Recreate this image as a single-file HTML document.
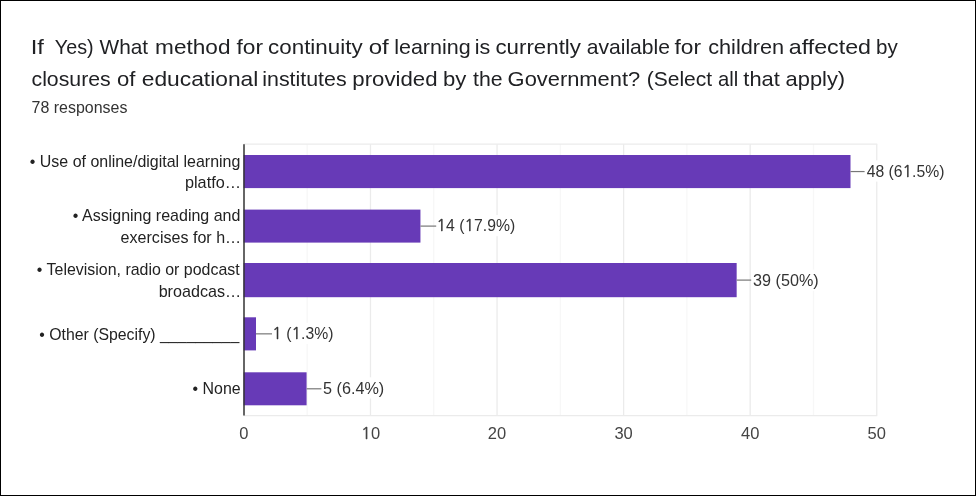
<!DOCTYPE html>
<html><head><meta charset="utf-8">
<style>
html,body{margin:0;padding:0;background:#fff;width:977px;height:497px;overflow:hidden;}
body{filter:blur(0.3px);}
.frame{position:absolute;left:0;top:0;width:976px;height:496px;box-sizing:border-box;border:1px solid #000;}
svg{position:absolute;left:0;top:0;will-change:transform;}
text{font-family:"Liberation Sans",sans-serif;}
</style></head>
<body>
<div class="frame"></div>
<svg width="977" height="497" viewBox="0 0 977 497">
<g stroke="#ebebeb" stroke-width="1.3">
<line x1="307.19" y1="144.2" x2="307.19" y2="415.6" stroke="#f7f7f7"/>
<line x1="370.47" y1="144.2" x2="370.47" y2="415.6" stroke="#ebebeb"/>
<line x1="433.75" y1="144.2" x2="433.75" y2="415.6" stroke="#f7f7f7"/>
<line x1="497.04" y1="144.2" x2="497.04" y2="415.6" stroke="#ebebeb"/>
<line x1="560.33" y1="144.2" x2="560.33" y2="415.6" stroke="#f7f7f7"/>
<line x1="623.61" y1="144.2" x2="623.61" y2="415.6" stroke="#ebebeb"/>
<line x1="686.89" y1="144.2" x2="686.89" y2="415.6" stroke="#f7f7f7"/>
<line x1="750.18" y1="144.2" x2="750.18" y2="415.6" stroke="#ebebeb"/>
<line x1="813.47" y1="144.2" x2="813.47" y2="415.6" stroke="#f7f7f7"/>
<line x1="876.75" y1="144.2" x2="876.75" y2="415.6" stroke="#ebebeb"/>
<line x1="243.6" y1="144.2" x2="877.25" y2="144.2"/>
<line x1="243.6" y1="415.6" x2="877.25" y2="415.6"/>
</g>
<g fill="#673ab7">
<rect x="243.6" y="155.00" width="606.90" height="33.10"/>
<rect x="243.6" y="209.60" width="176.84" height="33.00"/>
<rect x="243.6" y="263.00" width="493.06" height="34.20"/>
<rect x="243.6" y="317.30" width="12.40" height="33.10"/>
<rect x="243.6" y="372.30" width="62.99" height="33.00"/>
</g>
<line x1="244" y1="144.2" x2="244" y2="415.6" stroke="#333" stroke-width="1.5"/>
<g fill="#fff">
<rect x="866.0" y="160.4" width="78.4" height="21.2"/>
<rect x="437.6" y="215.0" width="77.5" height="21.2"/>
<rect x="752.6" y="269.6" width="66.0" height="21.2"/>
<rect x="273.4" y="322.8" width="60.0" height="21.2"/>
<rect x="322.8" y="377.3" width="61.5" height="21.2"/>
</g>
<g stroke="#777" stroke-width="1.2">
<line x1="850.50" y1="171.55" x2="864.60" y2="171.55"/>
<line x1="420.44" y1="226.10" x2="436.20" y2="226.10"/>
<line x1="736.66" y1="280.10" x2="751.20" y2="280.10"/>
<line x1="256.00" y1="333.85" x2="272.00" y2="333.85"/>
<line x1="306.59" y1="388.80" x2="321.40" y2="388.80"/>
</g>
<text y="53.6" font-size="20.2" fill="#202124" xml:space="preserve"><tspan x="30.74" textLength="13.23" lengthAdjust="spacingAndGlyphs">If</tspan>  <tspan x="54.81" textLength="38.82" lengthAdjust="spacingAndGlyphs">Yes)</tspan> <tspan x="99.54" textLength="48.59" lengthAdjust="spacingAndGlyphs">What</tspan> <tspan x="155.1" textLength="75.4" lengthAdjust="spacingAndGlyphs">method</tspan> <tspan x="236.52" textLength="26.53" lengthAdjust="spacingAndGlyphs">for</tspan> <tspan x="268.07" textLength="94.58" lengthAdjust="spacingAndGlyphs">continuity</tspan> <tspan x="368.7" textLength="20.11" lengthAdjust="spacingAndGlyphs">of</tspan> <tspan x="394.17" textLength="76.56" lengthAdjust="spacingAndGlyphs">learning</tspan> <tspan x="474.67" textLength="15.53" lengthAdjust="spacingAndGlyphs">is</tspan> <tspan x="495.47" textLength="85.52" lengthAdjust="spacingAndGlyphs">currently</tspan> <tspan x="586.72" textLength="83.26" lengthAdjust="spacingAndGlyphs">available</tspan> <tspan x="674.52" textLength="26.53" lengthAdjust="spacingAndGlyphs">for</tspan> <tspan x="708.19" textLength="75.97" lengthAdjust="spacingAndGlyphs">children</tspan> <tspan x="788.74" textLength="82.27" lengthAdjust="spacingAndGlyphs">affected</tspan> <tspan x="876.02" textLength="21.75" lengthAdjust="spacingAndGlyphs">by</tspan></text>
<text y="86.0" font-size="20.2" fill="#202124" xml:space="preserve"><tspan x="31.51" textLength="79.2" lengthAdjust="spacingAndGlyphs">closures</tspan> <tspan x="116.98" textLength="18.45" lengthAdjust="spacingAndGlyphs">of</tspan> <tspan x="141.75" textLength="116.58" lengthAdjust="spacingAndGlyphs">educational</tspan> <tspan x="262.28" textLength="84.33" lengthAdjust="spacingAndGlyphs">institutes</tspan> <tspan x="352.32" textLength="85.28" lengthAdjust="spacingAndGlyphs">provided</tspan> <tspan x="443.03" textLength="23.35" lengthAdjust="spacingAndGlyphs">by</tspan> <tspan x="473.04" textLength="29.53" lengthAdjust="spacingAndGlyphs">the</tspan> <tspan x="507.62" textLength="132.56" lengthAdjust="spacingAndGlyphs">Government?</tspan> <tspan x="646.7" textLength="65.4" lengthAdjust="spacingAndGlyphs">(Select</tspan> <tspan x="718.05" textLength="20.2" lengthAdjust="spacingAndGlyphs">all</tspan> <tspan x="743.33" textLength="36.47" lengthAdjust="spacingAndGlyphs">that</tspan> <tspan x="785.59" textLength="59.55" lengthAdjust="spacingAndGlyphs">apply)</tspan></text>
<text x="31.54" y="113.1" font-size="15.75" fill="#333" textLength="95.83" lengthAdjust="spacingAndGlyphs" xml:space="preserve">78 responses</text>
<text x="29.84" y="166.9" font-size="15.7" fill="#222" textLength="210.53" lengthAdjust="spacingAndGlyphs" xml:space="preserve">• Use of online/digital learning</text>
<text x="184.96" y="187.7" font-size="15.7" fill="#222" textLength="55.99" lengthAdjust="spacingAndGlyphs" xml:space="preserve">platfo…</text>
<text x="72.83" y="221.1" font-size="15.7" fill="#222" textLength="167.57" lengthAdjust="spacingAndGlyphs" xml:space="preserve">• Assigning reading and</text>
<text x="120.63" y="242.8" font-size="15.7" fill="#222" textLength="120.52" lengthAdjust="spacingAndGlyphs" xml:space="preserve">exercises for h…</text>
<text x="36.84" y="275.1" font-size="15.7" fill="#222" textLength="202.84" lengthAdjust="spacingAndGlyphs" xml:space="preserve">• Television, radio or podcast</text>
<text x="158.67" y="296.8" font-size="15.7" fill="#222" textLength="82.47" lengthAdjust="spacingAndGlyphs" xml:space="preserve">broadcas…</text>
<text x="39.24" y="339.6" font-size="15.7" fill="#222" textLength="199.97" lengthAdjust="spacingAndGlyphs" xml:space="preserve">• Other (Specify) _________</text>
<text x="192.54" y="393.5" font-size="15.7" fill="#222" textLength="48.08" lengthAdjust="spacingAndGlyphs" xml:space="preserve">• None</text>
<text x="866.75" y="176.6" font-size="15.6" fill="#333" textLength="77.74" lengthAdjust="spacingAndGlyphs" xml:space="preserve">48 (6<tspan style="font-family:NanumGothic;stroke:#333;stroke-width:0.4">1</tspan>.5%)</text>
<text x="436.58" y="231.2" font-size="15.6" fill="#333" textLength="78.64" lengthAdjust="spacingAndGlyphs" xml:space="preserve"><tspan style="font-family:NanumGothic;stroke:#333;stroke-width:0.4">1</tspan>4 (<tspan style="font-family:NanumGothic;stroke:#333;stroke-width:0.4">1</tspan>7.9%)</text>
<text x="753.08" y="285.8" font-size="15.6" fill="#333" textLength="65.59" lengthAdjust="spacingAndGlyphs" xml:space="preserve">39 (50%)</text>
<text x="272.38" y="339.0" font-size="15.6" fill="#333" textLength="61.04" lengthAdjust="spacingAndGlyphs" xml:space="preserve"><tspan style="font-family:NanumGothic;stroke:#333;stroke-width:0.4">1</tspan> (<tspan style="font-family:NanumGothic;stroke:#333;stroke-width:0.4">1</tspan>.3%)</text>
<text x="323.02" y="393.5" font-size="15.6" fill="#333" textLength="61.25" lengthAdjust="spacingAndGlyphs" xml:space="preserve">5 (6.4%)</text>
<g fill="#444" font-size="16.5">
<text x="243.90" y="439" text-anchor="middle">0</text>
<text x="370.47" y="439" text-anchor="middle"><tspan style="font-family:NanumGothic;stroke:#444;stroke-width:0.4">1</tspan>0</text>
<text x="497.04" y="439" text-anchor="middle">20</text>
<text x="623.61" y="439" text-anchor="middle">30</text>
<text x="750.18" y="439" text-anchor="middle">40</text>
<text x="876.75" y="439" text-anchor="middle">50</text>
</g>
</svg>
</body></html>
